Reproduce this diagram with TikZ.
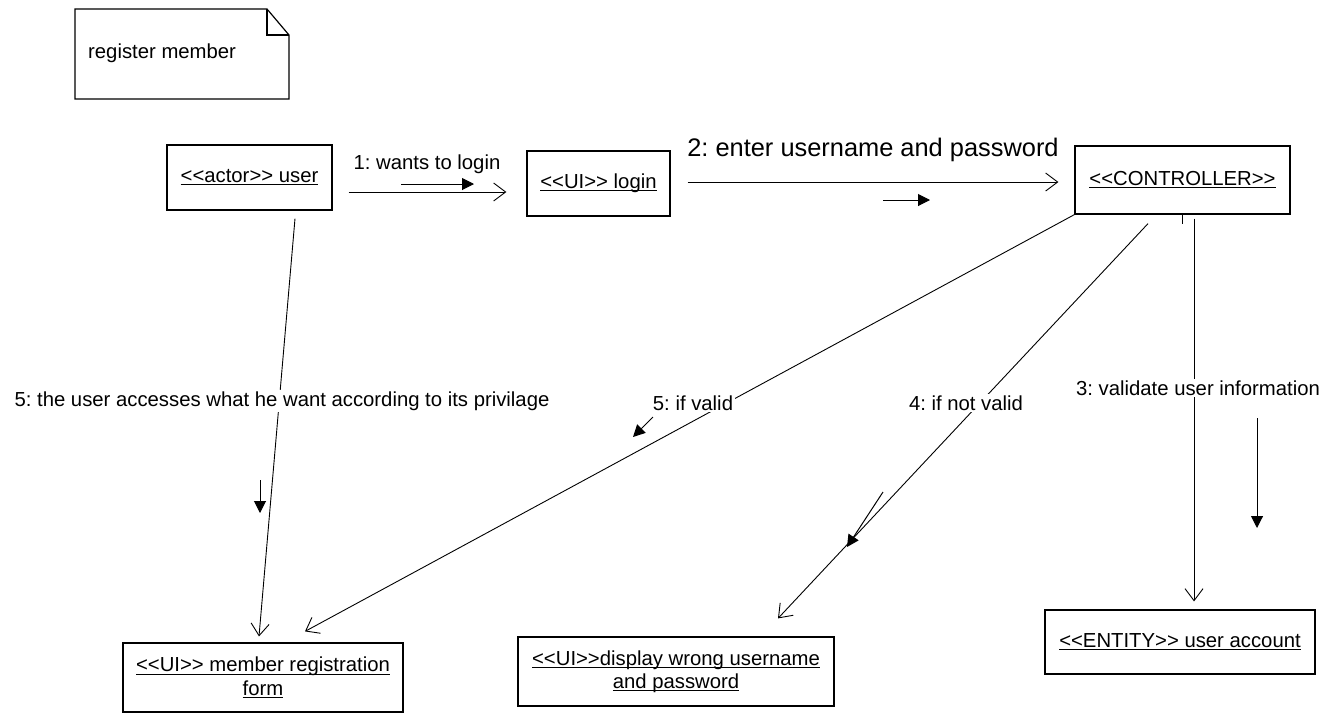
\documentclass[tikz,border=0pt]{standalone}
\usepackage{fontspec}
\setmainfont{Liberation Sans}
\usetikzlibrary{arrows.meta}
\frenchspacing
% underlined object name with a fixed rule depth
\newcommand{\utext}[1]{\setbox0\hbox{#1}\rlap{\rule[-2.6pt]{\wd0}{0.9pt}}\box0}
% stereotype brackets, kept apart so they are not turned into guillemets
\newcommand{\stL}{<\kern0pt<}
\newcommand{\stR}{>\kern0pt>}
\begin{document}
\begin{tikzpicture}[x=1pt,y=-1pt,
  every node/.style={font=\fontsize{20.3}{23.5}\selectfont, text=black},
  objbox/.style={draw, line width=1.2pt, rectangle, inner sep=0pt, align=center},
  conn/.style={line width=0.9pt, -{Straight Barb[length=12pt,width=18pt]}},
  msg/.style={line width=1pt, -{Triangle[length=12pt,width=12pt]}},
  lbl/.style={fill=white, inner sep=1.5pt}]
\useasboundingbox[fill=white] (0,0) rectangle (1338,713);

% note
\draw[line width=1.2pt] (75,9) -- (267,9) -- (289,35) -- (289,99) -- (75,99) -- cycle;
\draw[line width=1.2pt] (267,9) -- (267,35) -- (289,35);
\node[anchor=west, inner sep=0pt] (note) at (88,53) {register member};

% objects
\node[objbox, minimum width=165pt, minimum height=65pt] (actor) at (249.5,177.5)
  {\utext{\stL actor\stR{} user}};
\node[objbox, minimum width=143pt, minimum height=65pt] (login) at (598.5,183.5)
  {\utext{\stL UI\stR{} login}};
\node[objbox, minimum width=215pt, minimum height=68pt] (ctrl) at (1182.5,180)
  {\utext{\stL CONTROLLER\stR}};
\node[objbox, minimum width=280pt, minimum height=69pt] (member) at (263,677.5)
  {\utext{\stL UI\stR{} member registration}\\\utext{form}};
\node[objbox, minimum width=316pt, minimum height=69pt] (wrong) at (676,671.5)
  {\utext{\stL UI\stR display wrong username}\\\utext{and password}};
\node[objbox, minimum width=270pt, minimum height=64pt] (entity) at (1180,642)
  {\utext{\stL ENTITY\stR{} user account}};

% links
\draw[conn, shorten <=16pt, shorten >=20pt]
  ([yshift=-14.5pt]actor.east) -- ([yshift=-8.5pt]login.west);
\draw[conn, shorten <=17pt, shorten >=16pt]
  ([yshift=1.5pt]login.east) -- ([yshift=-2pt]ctrl.west);
\draw[conn] (ctrl.south west) -- ([xshift=42pt,yshift=11pt]member.north);
\draw[conn] ([xshift=-34.5pt,yshift=-9pt]ctrl.south) -- ([xshift=102pt,yshift=18pt]wrong.north);
\draw[conn] ([xshift=11.5pt,yshift=-4pt]ctrl.south) -- ([xshift=14pt,yshift=8pt]entity.north);
\draw[conn] ([xshift=45.5pt,yshift=-8pt]actor.south) -- ([xshift=-4pt,yshift=6pt]member.north);
\draw[line width=0.9pt] (ctrl.south) ++(-0.5,0) -- ++(0,9);

% message labels
\node[lbl] (l1) at (427,164) {1: wants to login};
\node[lbl, font=\fontsize{25.4}{28}\selectfont] (l2) at (873,150) {2: enter username and password};
\node[lbl] (l3) at (1198,388) {3: validate user information};
\node[lbl] (l4) at (966,403) {4: if not valid};
\node[lbl] (l5) at (693,403) {5: if valid};
\node[lbl] (l6) at (282,401) {5: the user accesses what he want according to its privilage};

% message direction arrows
\draw[msg] (401,184) -- (474,184);
\draw[msg] (883,200) -- (930,200);
\draw[msg] (1257,418) -- (1257,528);
\draw[msg] (883,492) -- (847,547);
\draw[msg] (653,417) -- (633,437);
\draw[msg] (260,480) -- (260,513);
\end{tikzpicture}
\end{document}
